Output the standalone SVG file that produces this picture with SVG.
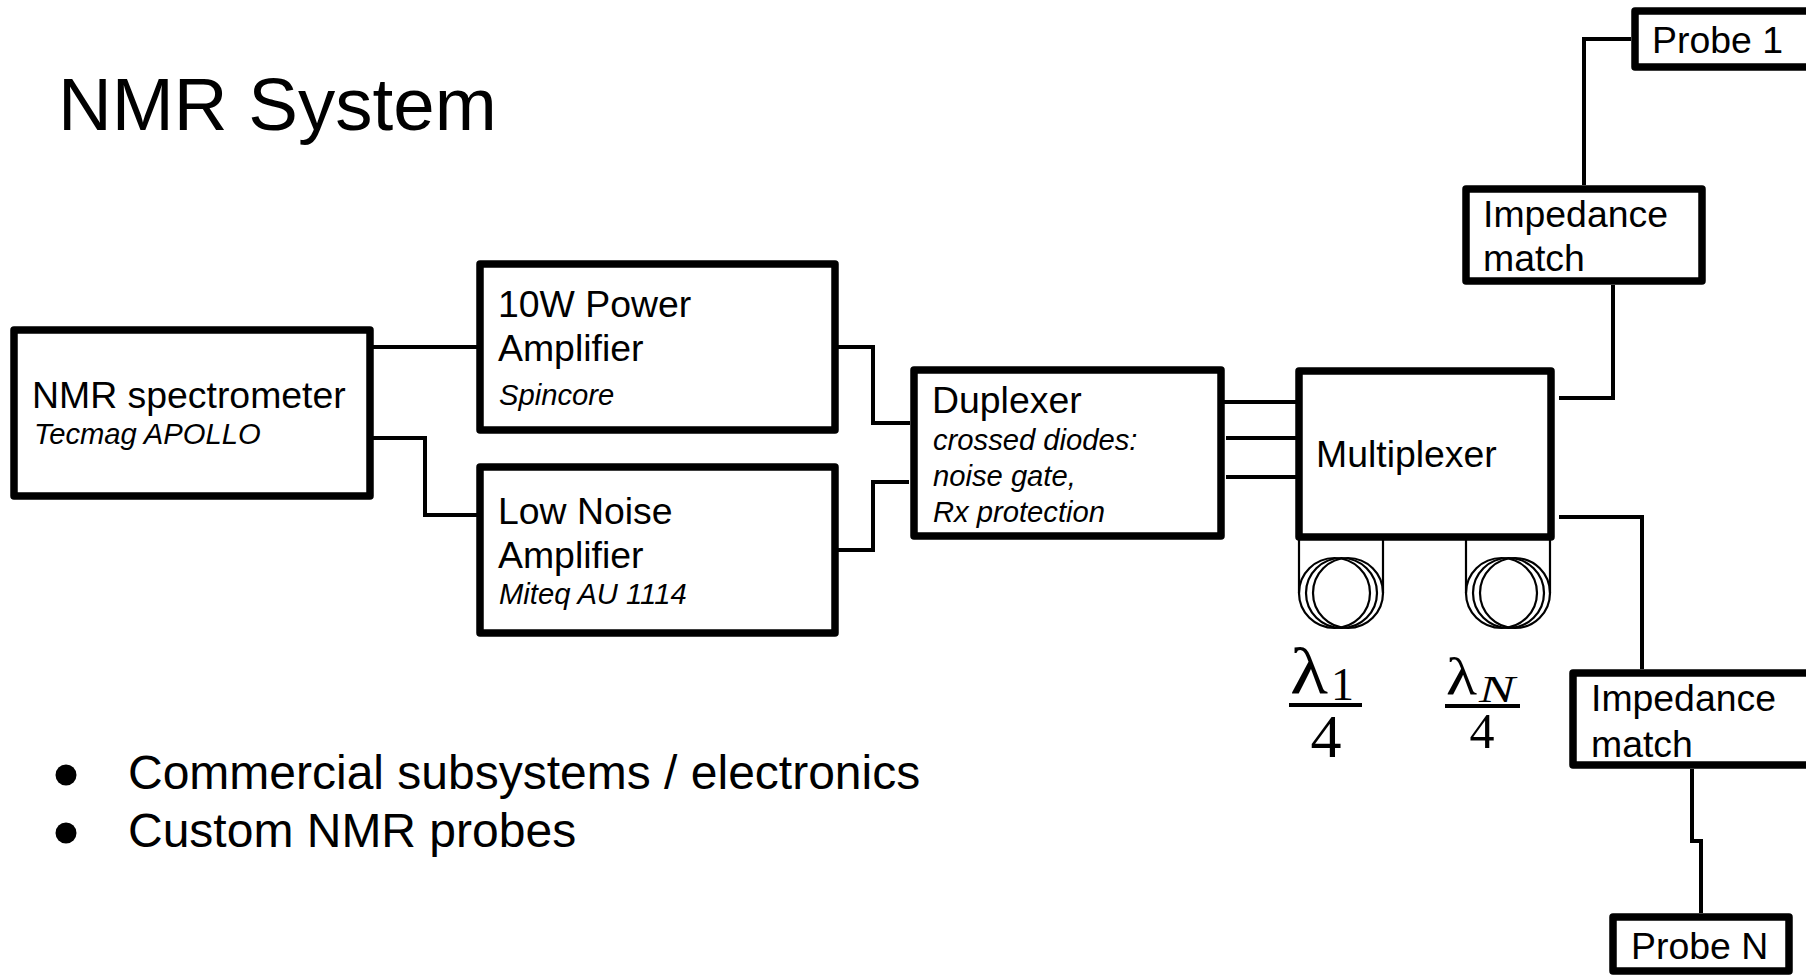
<svg xmlns="http://www.w3.org/2000/svg" width="1806" height="975" viewBox="0 0 1806 975">
<style>
text{font-family:"Liberation Sans",Arial,sans-serif;fill:#000}
.b{fill:#fff;stroke:#000;stroke-width:7.5;stroke-linejoin:round}
.c{fill:none;stroke:#000;stroke-width:4}
.l{font-size:37.4px}
.i{font-size:29.2px;font-style:italic}
.t{font-size:48px}
.coil{fill:none;stroke:#000;stroke-width:2.2}
.m{font-family:"Liberation Serif","DejaVu Serif",serif}
</style>
<rect width="1806" height="975" fill="#fff"/>
<text id="title" x="58" y="130" font-size="74.500">NMR System</text>
<g id="connectors">
<path class="c" d="M372 347H478"/>
<path class="c" d="M372 438H425V515H478"/>
<path class="c" d="M837 347H873V423H910"/>
<path class="c" d="M837 550H873V482H909"/>
<path class="c" d="M1224 402H1297M1226 438H1297M1226 477H1297"/>
<path class="c" d="M1559 398H1613V285"/>
<path class="c" d="M1584 185V39H1631"/>
<path class="c" d="M1559 517H1642V669"/>
<path class="c" d="M1692 769V841H1701V913"/>
</g>
<g id="spectrometer"><rect class="b" x="14" y="330" width="356" height="166"/><text class="l" x="32" y="408">NMR spectrometer</text><text class="i" x="34" y="444">Tecmag APOLLO</text></g>
<g id="power-amp"><rect class="b" x="480" y="264" width="355" height="166"/><text class="l" x="498" y="317">10W Power</text><text class="l" x="498" y="361">Amplifier</text><text class="i" x="499" y="405">Spincore</text></g>
<g id="lna"><rect class="b" x="480" y="467" width="355" height="166"/><text class="l" x="498" y="524">Low Noise</text><text class="l" x="498" y="568">Amplifier</text><text class="i" x="499" y="604">Miteq AU 1114</text></g>
<g id="duplexer"><rect class="b" x="914" y="370" width="307" height="166"/><text class="l" x="932" y="413">Duplexer</text><text class="i" x="933" y="450">crossed diodes:</text><text class="i" x="933" y="486">noise gate,</text><text class="i" x="933" y="522">Rx protection</text></g>
<g id="multiplexer"><rect class="b" x="1299" y="371" width="252" height="166"/><text class="l" x="1316" y="467">Multiplexer</text></g>
<g id="impedance-1"><rect class="b" x="1466" y="189" width="236" height="92"/><text class="l" x="1483" y="227">Impedance</text><text class="l" x="1483" y="271">match</text></g>
<g id="probe-1"><rect class="b" x="1635" y="11" width="190" height="56"/><text class="l" x="1652" y="53">Probe 1</text></g>
<g id="impedance-n"><rect class="b" x="1573" y="673" width="250" height="92"/><text class="l" x="1591" y="711">Impedance</text><text class="l" x="1591" y="757">match</text></g>
<g id="probe-n"><rect class="b" x="1613" y="917" width="176" height="54"/><text class="l" x="1631" y="959">Probe N</text></g>
<g id="coil-1"><path class="coil" d="M1299 540V593M1383 540V593"/><ellipse class="coil" cx="1334.500" cy="593" rx="35.500" ry="35"/><ellipse class="coil" cx="1341.500" cy="593" rx="35.500" ry="35"/><ellipse class="coil" cx="1348" cy="593" rx="35" ry="35"/></g>
<g id="coil-n"><path class="coil" d="M1466 540V593M1550 540V593"/><ellipse class="coil" cx="1501.500" cy="593" rx="35.500" ry="35"/><ellipse class="coil" cx="1508.500" cy="593" rx="35.500" ry="35"/><ellipse class="coil" cx="1515" cy="593" rx="35" ry="35"/></g>
<g id="fraction-1"><text class="m" x="1290" y="693" font-size="66" textLength="38" lengthAdjust="spacingAndGlyphs">λ</text><text class="m" x="1331" y="700" font-size="46">1</text><path d="M1289 705H1362" stroke="#000" stroke-width="4"/><text class="m" x="1326" y="757" font-size="62" text-anchor="middle">4</text></g>
<g id="fraction-n"><text class="m" x="1446" y="694" font-size="52" textLength="31" lengthAdjust="spacingAndGlyphs">λ</text><text class="m" x="1479" y="702" font-size="38" font-style="italic" textLength="36" lengthAdjust="spacingAndGlyphs">N</text><path d="M1445 706H1520" stroke="#000" stroke-width="4"/><text class="m" x="1482" y="748" font-size="50" text-anchor="middle">4</text></g>
<g id="bullets"><circle cx="66" cy="775" r="10.500"/><circle cx="66" cy="833" r="10.500"/><text class="t" x="128" y="789">Commercial subsystems / electronics</text><text class="t" x="128" y="847">Custom NMR probes</text></g>
</svg>
